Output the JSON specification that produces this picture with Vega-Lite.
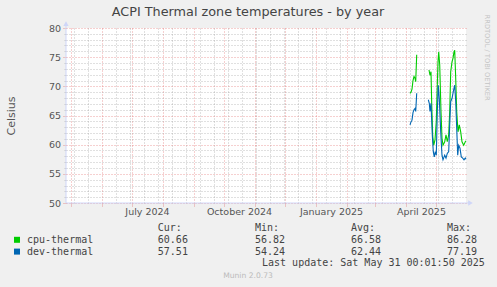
{
  "$schema": "https://vega.github.io/schema/vega-lite/v6.json",
  "background": "#F0F0F0",
  "padding": {"left": 66, "top": 28, "right": 431, "bottom": 259},
  "autosize": {"type": "none"},
  "bounds": "flush",
  "spacing": 25,
  "config": {"font": "DejaVu Sans", "view": {"stroke": null}},
  "datasets": {
    "temps": [
      {"t": "2025-04-05T00:00", "v": 68.8, "s": "cpu-thermal", "g": "cA"},
      {"t": "2025-04-06T00:00", "v": 69.0, "s": "cpu-thermal", "g": "cA"},
      {"t": "2025-04-07T00:00", "v": 69.5, "s": "cpu-thermal", "g": "cA"},
      {"t": "2025-04-08T00:00", "v": 71.0, "s": "cpu-thermal", "g": "cA"},
      {"t": "2025-04-09T00:00", "v": 71.7, "s": "cpu-thermal", "g": "cA"},
      {"t": "2025-04-10T00:00", "v": 71.4, "s": "cpu-thermal", "g": "cA"},
      {"t": "2025-04-10T17:00", "v": 70.8, "s": "cpu-thermal", "g": "cA"},
      {"t": "2025-04-11T17:00", "v": 75.4, "s": "cpu-thermal", "g": "cA"},
      {"t": "2025-04-24T00:00", "v": 72.8, "s": "cpu-thermal", "g": "cB"},
      {"t": "2025-04-25T00:00", "v": 71.9, "s": "cpu-thermal", "g": "cB"},
      {"t": "2025-04-26T00:00", "v": 72.5, "s": "cpu-thermal", "g": "cB"},
      {"t": "2025-04-26T17:00", "v": 67.0, "s": "cpu-thermal", "g": "cB"},
      {"t": "2025-04-27T17:00", "v": 61.5, "s": "cpu-thermal", "g": "cB"},
      {"t": "2025-04-28T17:00", "v": 59.9, "s": "cpu-thermal", "g": "cB"},
      {"t": "2025-04-30T00:00", "v": 60.8, "s": "cpu-thermal", "g": "cB"},
      {"t": "2025-05-01T07:00", "v": 64.0, "s": "cpu-thermal", "g": "cB"},
      {"t": "2025-05-02T00:00", "v": 68.5, "s": "cpu-thermal", "g": "cB"},
      {"t": "2025-05-03T00:00", "v": 74.2, "s": "cpu-thermal", "g": "cB"},
      {"t": "2025-05-03T17:00", "v": 75.9, "s": "cpu-thermal", "g": "cB"},
      {"t": "2025-05-04T17:00", "v": 73.7, "s": "cpu-thermal", "g": "cB"},
      {"t": "2025-05-06T00:00", "v": 65.7, "s": "cpu-thermal", "g": "cB"},
      {"t": "2025-05-07T00:00", "v": 61.1, "s": "cpu-thermal", "g": "cB"},
      {"t": "2025-05-08T00:00", "v": 59.9, "s": "cpu-thermal", "g": "cB"},
      {"t": "2025-05-09T17:00", "v": 60.5, "s": "cpu-thermal", "g": "cB"},
      {"t": "2025-05-11T00:00", "v": 61.7, "s": "cpu-thermal", "g": "cB"},
      {"t": "2025-05-12T07:00", "v": 60.5, "s": "cpu-thermal", "g": "cB"},
      {"t": "2025-05-13T17:00", "v": 61.7, "s": "cpu-thermal", "g": "cB"},
      {"t": "2025-05-14T17:00", "v": 65.7, "s": "cpu-thermal", "g": "cB"},
      {"t": "2025-05-15T17:00", "v": 72.5, "s": "cpu-thermal", "g": "cB"},
      {"t": "2025-05-17T00:00", "v": 74.2, "s": "cpu-thermal", "g": "cB"},
      {"t": "2025-05-18T00:00", "v": 74.8, "s": "cpu-thermal", "g": "cB"},
      {"t": "2025-05-19T00:00", "v": 75.9, "s": "cpu-thermal", "g": "cB"},
      {"t": "2025-05-19T17:00", "v": 76.2, "s": "cpu-thermal", "g": "cB"},
      {"t": "2025-05-20T17:00", "v": 71.4, "s": "cpu-thermal", "g": "cB"},
      {"t": "2025-05-21T17:00", "v": 65.7, "s": "cpu-thermal", "g": "cB"},
      {"t": "2025-05-23T00:00", "v": 62.2, "s": "cpu-thermal", "g": "cB"},
      {"t": "2025-05-24T07:00", "v": 63.4, "s": "cpu-thermal", "g": "cB"},
      {"t": "2025-05-25T17:00", "v": 62.2, "s": "cpu-thermal", "g": "cB"},
      {"t": "2025-05-27T00:00", "v": 60.5, "s": "cpu-thermal", "g": "cB"},
      {"t": "2025-05-28T17:00", "v": 59.9, "s": "cpu-thermal", "g": "cB"},
      {"t": "2025-05-30T07:00", "v": 60.5, "s": "cpu-thermal", "g": "cB"},
      {"t": "2025-05-31T00:00", "v": 60.66, "s": "cpu-thermal", "g": "cB"},
      {"t": "2025-04-05T00:00", "v": 63.4, "s": "dev-thermal", "g": "dA"},
      {"t": "2025-04-06T00:00", "v": 63.9, "s": "dev-thermal", "g": "dA"},
      {"t": "2025-04-07T00:00", "v": 64.2, "s": "dev-thermal", "g": "dA"},
      {"t": "2025-04-08T00:00", "v": 65.5, "s": "dev-thermal", "g": "dA"},
      {"t": "2025-04-09T00:00", "v": 66.0, "s": "dev-thermal", "g": "dA"},
      {"t": "2025-04-10T00:00", "v": 66.2, "s": "dev-thermal", "g": "dA"},
      {"t": "2025-04-10T17:00", "v": 65.7, "s": "dev-thermal", "g": "dA"},
      {"t": "2025-04-11T17:00", "v": 68.8, "s": "dev-thermal", "g": "dA"},
      {"t": "2025-04-23T07:00", "v": 67.7, "s": "dev-thermal", "g": "dB"},
      {"t": "2025-04-24T07:00", "v": 67.1, "s": "dev-thermal", "g": "dB"},
      {"t": "2025-04-25T00:00", "v": 65.7, "s": "dev-thermal", "g": "dB"},
      {"t": "2025-04-26T00:00", "v": 67.1, "s": "dev-thermal", "g": "dB"},
      {"t": "2025-04-27T07:00", "v": 61.7, "s": "dev-thermal", "g": "dB"},
      {"t": "2025-04-28T07:00", "v": 58.8, "s": "dev-thermal", "g": "dB"},
      {"t": "2025-04-29T07:00", "v": 57.9, "s": "dev-thermal", "g": "dB"},
      {"t": "2025-04-30T07:00", "v": 58.8, "s": "dev-thermal", "g": "dB"},
      {"t": "2025-05-01T07:00", "v": 58.2, "s": "dev-thermal", "g": "dB"},
      {"t": "2025-05-02T07:00", "v": 65.7, "s": "dev-thermal", "g": "dB"},
      {"t": "2025-05-03T07:00", "v": 70.2, "s": "dev-thermal", "g": "dB"},
      {"t": "2025-05-04T07:00", "v": 67.9, "s": "dev-thermal", "g": "dB"},
      {"t": "2025-05-05T17:00", "v": 62.2, "s": "dev-thermal", "g": "dB"},
      {"t": "2025-05-07T00:00", "v": 58.2, "s": "dev-thermal", "g": "dB"},
      {"t": "2025-05-08T00:00", "v": 57.4, "s": "dev-thermal", "g": "dB"},
      {"t": "2025-05-09T17:00", "v": 58.2, "s": "dev-thermal", "g": "dB"},
      {"t": "2025-05-11T00:00", "v": 57.7, "s": "dev-thermal", "g": "dB"},
      {"t": "2025-05-12T07:00", "v": 58.5, "s": "dev-thermal", "g": "dB"},
      {"t": "2025-05-13T17:00", "v": 58.8, "s": "dev-thermal", "g": "dB"},
      {"t": "2025-05-14T17:00", "v": 63.4, "s": "dev-thermal", "g": "dB"},
      {"t": "2025-05-15T17:00", "v": 67.4, "s": "dev-thermal", "g": "dB"},
      {"t": "2025-05-17T00:00", "v": 67.9, "s": "dev-thermal", "g": "dB"},
      {"t": "2025-05-18T07:00", "v": 69.1, "s": "dev-thermal", "g": "dB"},
      {"t": "2025-05-19T17:00", "v": 70.2, "s": "dev-thermal", "g": "dB"},
      {"t": "2025-05-20T17:00", "v": 67.4, "s": "dev-thermal", "g": "dB"},
      {"t": "2025-05-21T17:00", "v": 62.8, "s": "dev-thermal", "g": "dB"},
      {"t": "2025-05-22T17:00", "v": 58.2, "s": "dev-thermal", "g": "dB"},
      {"t": "2025-05-23T17:00", "v": 59.9, "s": "dev-thermal", "g": "dB"},
      {"t": "2025-05-25T00:00", "v": 59.4, "s": "dev-thermal", "g": "dB"},
      {"t": "2025-05-26T07:00", "v": 57.9, "s": "dev-thermal", "g": "dB"},
      {"t": "2025-05-27T17:00", "v": 57.7, "s": "dev-thermal", "g": "dB"},
      {"t": "2025-05-29T00:00", "v": 57.4, "s": "dev-thermal", "g": "dB"},
      {"t": "2025-05-30T07:00", "v": 57.7, "s": "dev-thermal", "g": "dB"},
      {"t": "2025-05-31T00:00", "v": 57.51, "s": "dev-thermal", "g": "dB"}
    ],
    "axislines": [
      {"t": "2024-04-26T00:01:50", "t2": "2024-04-26T00:01:50", "v": 50, "v2": 80.6},
      {"t": "2024-04-26T00:01:50", "t2": "2025-06-04T00:00", "v": 50, "v2": 50}
    ],
    "arrows": [
      {"t": "2024-04-26T00:01:50", "v": 80.75, "shape": "triangle-up"},
      {"t": "2025-06-04T12:00", "v": 50, "shape": "triangle-right"}
    ],
    "watermark": [
      {"t": "2025-06-21T12:00", "v": 82.3, "s": "RRDTOOL / TOBI OETIKER"}
    ],
    "legendtext": [
      {"c": 21.8, "r": 0, "s": "Cur:"},
      {"c": 38, "r": 0, "s": "Min:"},
      {"c": 54, "r": 0, "s": "Avg:"},
      {"c": 70, "r": 0, "s": "Max:"},
      {"c": 0, "r": 1, "s": "cpu-thermal"},
      {"c": 21.8, "r": 1, "s": "60.66"},
      {"c": 38, "r": 1, "s": "56.82"},
      {"c": 54, "r": 1, "s": "66.58"},
      {"c": 70, "r": 1, "s": "86.28"},
      {"c": 0, "r": 2, "s": "dev-thermal"},
      {"c": 21.8, "r": 2, "s": "57.51"},
      {"c": 38, "r": 2, "s": "54.24"},
      {"c": 54, "r": 2, "s": "62.44"},
      {"c": 70, "r": 2, "s": "77.19"},
      {"c": 39.17, "r": 3, "s": "Last update: Sat May 31 00:01:50 2025"}
    ],
    "swatches": [
      {"c": -1.67, "r": 1, "s": "cpu-thermal"},
      {"c": -1.67, "r": 2, "s": "dev-thermal"}
    ],
    "footer": [
      {"c": 36.83, "r": 4.07, "s": "Munin 2.0.73"}
    ]
  },
  "vconcat": [
    {
      "width": 400,
      "height": 175,
      "view": {"fill": "#FFFFFF", "stroke": null},
      "title": {"text": "ACPI Thermal zone temperatures - by year", "anchor": "middle", "frame": "group", "dx": -18, "fontSize": 12.8, "fontWeight": "normal", "color": "#444444", "font": "DejaVu Sans", "offset": -4.5},
      "resolve": {"axis": {"x": "independent", "y": "independent"}},
      "layer": [
        {
          "data": {"name": "temps"},
          "mark": {"type": "line", "opacity": 0},
          "encoding": {
            "x": {"field": "t", "type": "temporal",
              "scale": {"domain": [{"year": 2024, "month": 4, "date": 26, "hours": 0, "minutes": 1, "seconds": 50}, {"year": 2025, "month": 5, "date": 31, "hours": 0, "minutes": 1, "seconds": 50}]},
              "axis": {"orient": "bottom", "title": null, "labels": false, "ticks": false, "domain": false, "grid": true, "gridColor": "#8F8F8F", "gridOpacity": 0.55, "gridDash": [1, 2],
                "values": [
                  {"year": 2024, "month": 5, "date": 4}, {"year": 2024, "month": 5, "date": 18}, {"year": 2024, "month": 6, "date": 15}, {"year": 2024, "month": 6, "date": 29},
                  {"year": 2024, "month": 7, "date": 13}, {"year": 2024, "month": 7, "date": 27}, {"year": 2024, "month": 8, "date": 10}, {"year": 2024, "month": 8, "date": 24},
                  {"year": 2024, "month": 9, "date": 7}, {"year": 2024, "month": 9, "date": 21}, {"year": 2024, "month": 10, "date": 5}, {"year": 2024, "month": 10, "date": 19},
                  {"year": 2024, "month": 11, "date": 2}, {"year": 2024, "month": 11, "date": 16}, {"year": 2024, "month": 11, "date": 30}, {"year": 2024, "month": 12, "date": 14},
                  {"year": 2024, "month": 12, "date": 28}, {"year": 2025, "month": 1, "date": 11}, {"year": 2025, "month": 1, "date": 25}, {"year": 2025, "month": 2, "date": 8},
                  {"year": 2025, "month": 2, "date": 22}, {"year": 2025, "month": 3, "date": 8}, {"year": 2025, "month": 3, "date": 22}, {"year": 2025, "month": 4, "date": 5},
                  {"year": 2025, "month": 4, "date": 19}, {"year": 2025, "month": 5, "date": 3}, {"year": 2025, "month": 5, "date": 17}
                ]}},
            "y": {"field": "v", "type": "quantitative",
              "scale": {"domain": [50, 80], "nice": false, "zero": false},
              "axis": {"orient": "left", "title": null, "labels": false, "ticks": true, "tickColor": "#C8C8C8", "tickSize": 2, "domain": false, "grid": true, "gridColor": "#8F8F8F", "gridOpacity": 0.55, "gridDash": [1, 2],
                "values": [51, 52, 53, 54, 56, 57, 58, 59, 61, 62, 63, 64, 66, 67, 68, 69, 71, 72, 73, 74, 76, 77, 78, 79]}}
          }
        },
        {
          "data": {"name": "temps"},
          "mark": {"type": "line", "opacity": 0},
          "encoding": {
            "x": {"field": "t", "type": "temporal",
              "axis": {"orient": "bottom", "title": null, "labels": false, "ticks": true, "tickColor": "#E07070", "tickOpacity": 0.7, "tickSize": 3, "tickDash": [1, 1], "domain": false, "grid": true, "gridColor": "#E06060", "gridOpacity": 0.6, "gridDash": [1, 2],
                "values": [
                  {"year": 2024, "month": 5, "date": 1}, {"year": 2024, "month": 6, "date": 1}, {"year": 2024, "month": 7, "date": 1}, {"year": 2024, "month": 8, "date": 1},
                  {"year": 2024, "month": 9, "date": 1}, {"year": 2024, "month": 10, "date": 1}, {"year": 2024, "month": 11, "date": 1}, {"year": 2024, "month": 12, "date": 1},
                  {"year": 2025, "month": 1, "date": 1}, {"year": 2025, "month": 2, "date": 1}, {"year": 2025, "month": 3, "date": 1}, {"year": 2025, "month": 4, "date": 1},
                  {"year": 2025, "month": 5, "date": 1}
                ]}},
            "y": {"field": "v", "type": "quantitative",
              "axis": {"orient": "left", "values": [50, 55, 60, 65, 70, 75, 80], "grid": true, "gridColor": "#E06060", "gridOpacity": 0.6, "gridDash": [1, 2],
                "ticks": true, "tickColor": "#E07070", "tickOpacity": 0.7, "tickSize": 3, "tickDash": [1, 1], "domain": false,
                "labels": true, "labelFont": "DejaVu Sans", "labelFontSize": 9.5, "labelColor": "#555555", "labelPadding": 2.5,
                "title": "Celsius", "titleFont": "DejaVu Sans", "titleFontSize": 11, "titleFontWeight": "normal", "titleColor": "#555555",
                "titleX": -55, "titleY": 87.5, "titleAngle": -90, "titleAlign": "center", "titleBaseline": "middle"}}
          }
        },
        {
          "data": {"name": "axislines"},
          "mark": {"type": "rule", "color": "#CFD6F8", "strokeWidth": 1},
          "encoding": {
            "x": {"field": "t", "type": "temporal", "axis": null},
            "x2": {"field": "t2"},
            "y": {"field": "v", "type": "quantitative", "axis": null},
            "y2": {"field": "v2"}
          }
        },
        {
          "data": {"name": "arrows"},
          "mark": {"type": "point", "filled": true, "opacity": 1, "size": 28, "color": "#CFD6F8"},
          "encoding": {
            "x": {"field": "t", "type": "temporal", "axis": null},
            "y": {"field": "v", "type": "quantitative", "axis": null},
            "shape": {"field": "shape", "type": "nominal", "scale": {"domain": ["triangle-up", "triangle-right"], "range": ["triangle-up", "triangle-right"]}, "legend": null}
          }
        },
        {
          "data": {"name": "temps"},
          "mark": {"type": "line", "strokeWidth": 1.1},
          "encoding": {
            "x": {"field": "t", "type": "temporal",
              "axis": {"orient": "bottom", "title": null, "ticks": false, "grid": false, "domain": false,
                "labels": true, "format": "%B %Y", "labelFont": "DejaVu Sans", "labelFontSize": 9.5, "labelColor": "#555555", "labelPadding": 3.5,
                "values": [{"year": 2024, "month": 7, "date": 16}, {"year": 2024, "month": 10, "date": 16}, {"year": 2025, "month": 1, "date": 16}, {"year": 2025, "month": 4, "date": 16}]}},
            "y": {"field": "v", "type": "quantitative", "axis": null},
            "color": {"field": "s", "type": "nominal", "scale": {"domain": ["cpu-thermal", "dev-thermal"], "range": ["#00CC00", "#0066B3"]}, "legend": null},
            "detail": {"field": "g"}
          }
        },
        {
          "data": {"name": "watermark"},
          "mark": {"type": "text", "angle": 90, "align": "left", "baseline": "middle", "font": "DejaVu Sans", "fontSize": 6.7, "color": "#C4C4C4"},
          "encoding": {
            "x": {"field": "t", "type": "temporal", "axis": null},
            "y": {"field": "v", "type": "quantitative", "axis": null},
            "text": {"field": "s"}
          }
        }
      ]
    },
    {
      "width": 400,
      "height": 47.2,
      "view": {"stroke": null},
      "layer": [
        {
          "data": {"name": "legendtext"},
          "mark": {"type": "text", "align": "left", "baseline": "middle", "font": "DejaVu Sans Mono", "fontSize": 10, "color": "#444444"},
          "encoding": {
            "x": {"field": "c", "type": "quantitative", "scale": {"domain": [6.5, 73.1667], "nice": false, "zero": false}, "axis": null},
            "y": {"field": "r", "type": "quantitative", "scale": {"domain": [0, 4], "reverse": true, "nice": false, "zero": false}, "axis": null},
            "text": {"field": "s"}
          }
        },
        {
          "data": {"name": "swatches"},
          "mark": {"type": "point", "shape": "square", "filled": true, "opacity": 1, "size": 36},
          "encoding": {
            "x": {"field": "c", "type": "quantitative", "axis": null},
            "y": {"field": "r", "type": "quantitative", "axis": null},
            "color": {"field": "s", "type": "nominal", "scale": {"domain": ["cpu-thermal", "dev-thermal"], "range": ["#00CC00", "#0066B3"]}, "legend": null}
          }
        },
        {
          "data": {"name": "footer"},
          "mark": {"type": "text", "align": "center", "baseline": "middle", "font": "DejaVu Sans", "fontSize": 7.6, "color": "#BBBBBB"},
          "encoding": {
            "x": {"field": "c", "type": "quantitative", "axis": null},
            "y": {"field": "r", "type": "quantitative", "axis": null},
            "text": {"field": "s"}
          }
        }
      ]
    }
  ]
}
